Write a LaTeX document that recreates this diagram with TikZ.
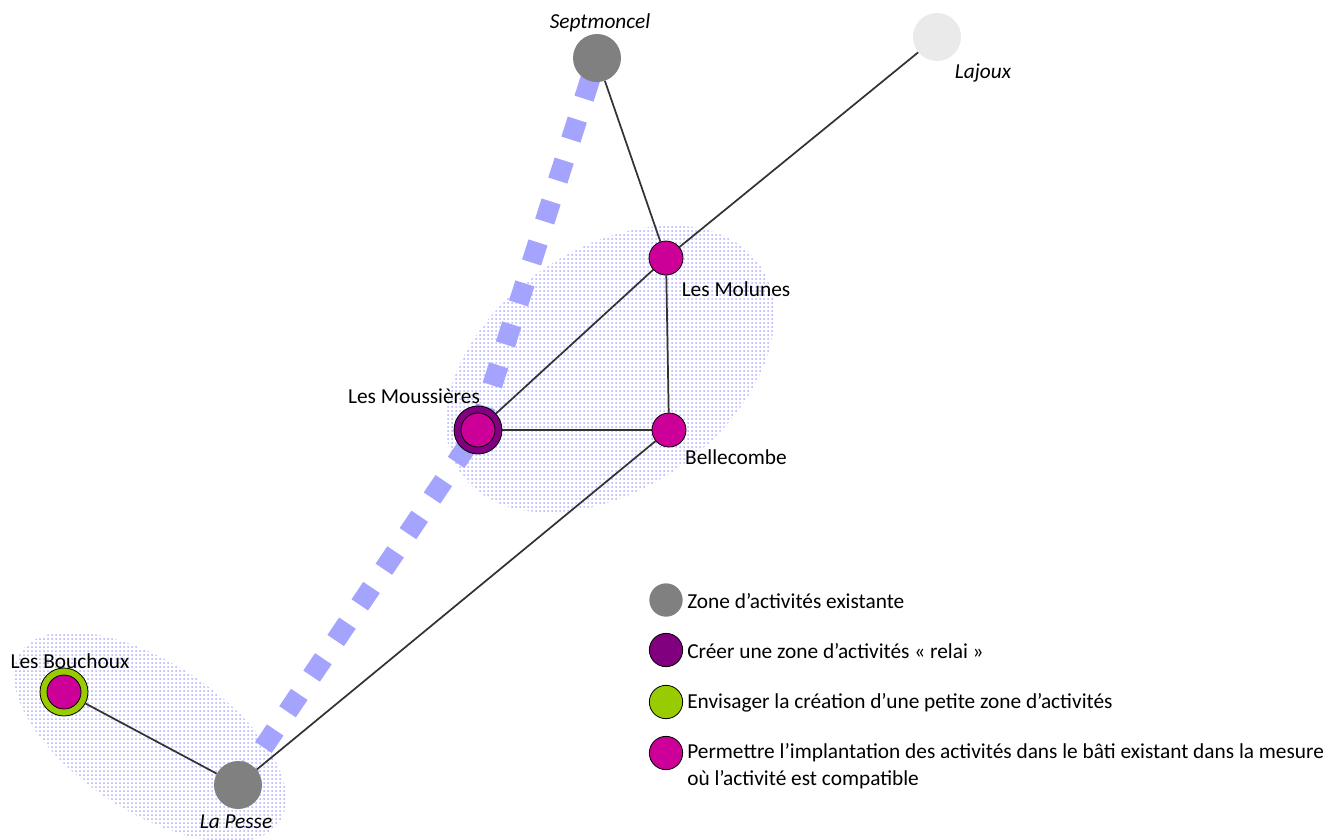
\documentclass[tikz,border=0pt]{standalone}
\usepackage{fontspec}
\setmainfont{Carlito}
\usetikzlibrary{patterns.meta}
\pgfdeclarelayer{bg}
\pgfdeclarelayer{mid}
\pgfsetlayers{bg,mid,main}
\definecolor{zgray}{RGB}{128,128,128}
\definecolor{zlight}{RGB}{234,234,234}
\definecolor{zmag}{RGB}{204,0,153}
\definecolor{zpurple}{RGB}{128,0,128}
\definecolor{zgreen}{RGB}{153,204,0}
\definecolor{zdash}{RGB}{164,164,255}
\definecolor{zdots}{RGB}{175,175,245}
\definecolor{zedge}{RGB}{51,51,51}
\tikzset{
  bigdot/.style={circle, inner sep=0pt, minimum size=36pt},
  smalldot/.style={circle, inner sep=0pt, minimum size=25.5pt},
  legdot/.style={circle, inner sep=0pt, minimum size=25pt, draw=black, line width=0.6pt},
  existing/.style={bigdot, fill=zgray},
  magenta/.style={smalldot, fill=zmag, draw=black, line width=0.6pt},
  lbl/.style={inner sep=0pt, font=\fontsize{16}{20}\selectfont},
  ilbl/.style={lbl, font=\fontsize{16}{20}\selectfont\itshape},
  link/.style={draw=zedge, line width=1.3pt},
  corridor/.style={draw=zdash, line width=15pt, dash pattern=on 15.75pt off 16.5pt, dash phase=16pt},
  zone/.style={pattern={Dots[distance=3pt, radius=0.75pt]}, pattern color=zdots}
}
\begin{document}
\begin{tikzpicture}[x=0.75pt, y=-0.75pt]
\useasboundingbox (0,0) rectangle (1330,839);
\clip (0,0) rectangle (1330,839);
% nodes
\node[existing] (sept) at (597,58) {};
\node[bigdot, fill=zlight] (laj) at (937,37) {};
\node[magenta] (mol) at (666,258) {};
\node[magenta] (bel) at (669,430) {};
\node[bigdot, fill=zpurple, draw=black, line width=0.6pt] (mou) at (478,430) {};
\node[magenta] (mouin) at (478,430) {};
\node[bigdot, fill=zgreen, draw=black, line width=0.6pt] (bou) at (64,692) {};
\node[magenta] (bouin) at (64,692) {};
\node[existing] (pes) at (238,785) {};
% labels
\node[ilbl] (lsept) at (600,23) {Septmoncel};
\node[ilbl] (llaj) at (983,73) {Lajoux};
\node[lbl] (lmol) at (736,289) {Les Molunes};
\node[lbl] (lbel) at (736,457) {Bellecombe};
\node[lbl] (lmou) at (414,396) {Les Moussières};
\node[lbl] (lbou) at (70,661) {Les Bouchoux};
\node[ilbl] (lpes) at (236,822) {La Pesse};
% legend
\node[legdot, fill=zgray, draw=none] (k1) at (666,600) {};
\node[legdot, fill=zpurple] (k2) at (666,650) {};
\node[legdot, fill=zgreen] (k3) at (666,702) {};
\node[legdot, fill=zmag] (k4) at (666,753) {};
\node[lbl, anchor=west] (t1) at (687,601) {Zone d’activités existante};
\node[lbl, anchor=west] (t2) at (687,651) {Créer une zone d’activités « relai »};
\node[lbl, anchor=west] (t3) at (687,703) {Envisager la création d’une petite zone d’activités};
\node[lbl, anchor=west, align=left] (t4) at (687,766) {Permettre l’implantation des activités dans le bâti existant dans la mesure\\où l’activité est compatible};
% zones
\begin{pgfonlayer}{bg}
\path[zone, rotate around={35:(610,369)}] (610,369) ellipse [x radius=136.5pt, y radius=90pt];
\path[zone, rotate around={-33:(150,737)}] (150,737) ellipse [x radius=116pt, y radius=56pt];
\end{pgfonlayer}
% corridor and links
\begin{pgfonlayer}{mid}
\draw[corridor] (sept.center) -- (mou.center) -- (pes.center);
\draw[link] (sept) -- (mol);
\draw[link] (laj) -- (mol);
\draw[link] (mol) -- (mou);
\draw[link] (mol) -- (bel);
\draw[link] (mou) -- (bel);
\draw[link] (bel) -- (pes);
\draw[link] (bou) -- (pes);
\end{pgfonlayer}
\end{tikzpicture}
\end{document}
